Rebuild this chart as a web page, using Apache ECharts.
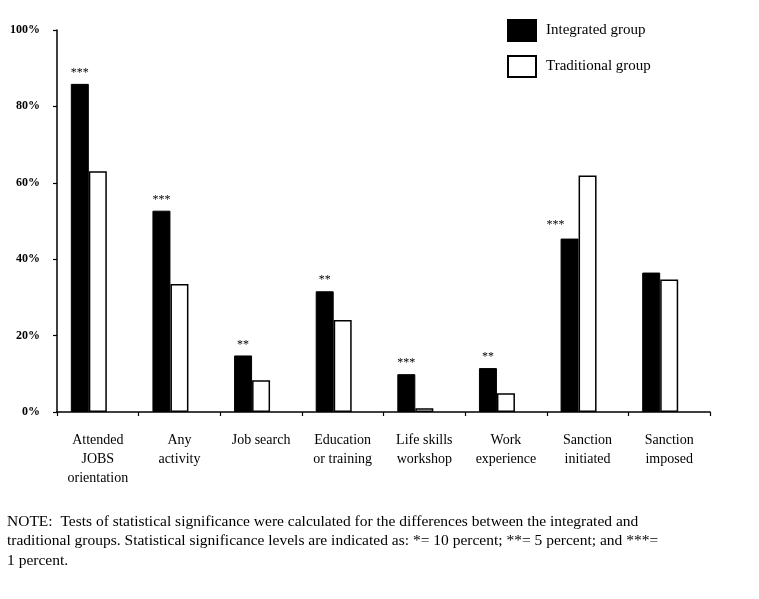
<!DOCTYPE html>
<html>
<head>
<meta charset="utf-8">
<script src="https://cdn.jsdelivr.net/npm/echarts@6/dist/echarts.min.js"></script>
<style>html,body{margin:0;padding:0;background:#fff;}#c{width:759px;height:599px;}</style>
</head>
<body>
<div id="c"></div>
<script>
const categories = ['Attended\nJOBS\norientation', 'Any\nactivity', 'Job search', 'Education\nor training', 'Life skills\nworkshop', 'Work\nexperience', 'Sanction\ninitiated', 'Sanction\nimposed'];
const integrated = [85.9, 52.7, 14.8, 31.6, 9.9, 11.5, 45.4, 36.5];
const traditional = [63.0, 33.5, 8.3, 24.1, 1.0, 4.9, 61.9, 34.7];
const significance = ['***', '***', '**', '**', '***', '**', '***', ''];
const yTicks = [0, 20, 40, 60, 80, 100];
const noteLines = [
  'NOTE:  Tests of statistical significance were calculated for the differences between the integrated and',
  'traditional groups. Statistical significance levels are indicated as: *= 10 percent; **= 5 percent; and ***=',
  '1 percent.'
];

const serif = '"Liberation Serif", "Times New Roman", serif';
const chart = echarts.init(document.getElementById('c'), null, {renderer: 'canvas'});

const integratedData = integrated.map((v, i) => {
  const item = {value: v};
  if (i === 6) item.label = {offset: [-14, -3]};
  return item;
});

chart.setOption({
  animation: false,
  backgroundColor: '#fff',
  textStyle: {fontFamily: serif, color: '#000'},
  grid: {left: 57, right: 49, top: 30, bottom: 187, containLabel: false},
  legend: {
    orient: 'vertical',
    left: 507, top: 19, padding: 0,
    icon: 'rect',
    itemWidth: 28, itemHeight: 21, itemGap: 13,
    data: ['Integrated group', 'Traditional group'],
    textStyle: {fontFamily: serif, fontSize: 15, color: '#000', padding: [4, 0, 0, 5]},
    selectedMode: false
  },
  xAxis: {
    type: 'category',
    data: categories,
    axisLine: {lineStyle: {color: '#000', width: 1.5}},
    axisTick: {show: true, length: 4, lineStyle: {color: '#000', width: 1.2}},
    axisLabel: {fontFamily: serif, fontSize: 14, color: '#000', lineHeight: 19, margin: 19, interval: 0}
  },
  yAxis: {
    type: 'value',
    min: yTicks[0], max: yTicks[yTicks.length - 1], interval: 20,
    splitLine: {show: false},
    axisLine: {show: true, lineStyle: {color: '#000', width: 1.5}},
    axisTick: {show: true, length: 4, lineStyle: {color: '#000', width: 1.2}},
    axisLabel: {formatter: '{value}%', fontFamily: serif, fontSize: 12, fontWeight: 'bold', color: '#000', margin: 17, padding: [7, 0, 0, 0]}
  },
  series: [
    {
      name: 'Integrated group', type: 'bar', barWidth: 18, barGap: '0%',
      data: integratedData,
      itemStyle: {color: '#000', borderColor: '#000', borderWidth: 1},
      label: {
        show: true, position: 'top', distance: 5,
        fontFamily: serif, fontSize: 12, color: '#000',
        formatter: p => significance[p.dataIndex]
      }
    },
    {
      name: 'Traditional group', type: 'bar', barWidth: 18, barGap: '0%',
      data: traditional,
      itemStyle: {color: '#fff', borderColor: '#000', borderWidth: 1.5}
    },
    {
      name: 'spacer', type: 'bar', barWidth: 18, barGap: '0%',
      data: categories.map(() => null),
      itemStyle: {color: 'transparent'},
      silent: true
    }
  ],
  graphic: [{
    type: 'text',
    left: 7, top: 512,
    style: {
      text: noteLines.join('\n'),
      font: '15.5px ' + serif,
      lineHeight: 19.5,
      fill: '#000'
    }
  }]
});
</script>
</body>
</html>
